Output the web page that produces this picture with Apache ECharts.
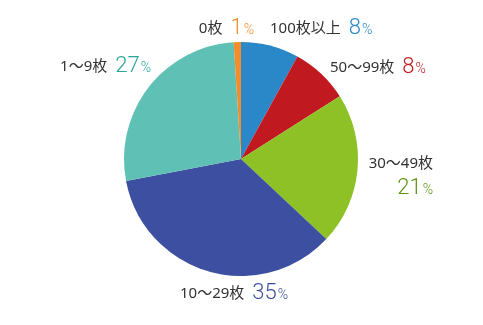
<!DOCTYPE html>
<html><head><meta charset="utf-8">
<script src="https://cdn.jsdelivr.net/npm/echarts@6/dist/echarts.min.js"></script>
<style>html,body{margin:0;padding:0;background:#fff}#c{width:483px;height:325px}</style>
</head><body><div id="c"></div>
<script>
var categories = ['100枚以上', '50〜99枚', '30〜49枚', '10〜29枚', '1〜9枚', '0枚'];
var values = [8, 8, 21, 35, 27, 1];
var sliceColors = ['#2a88c8', '#c11920', '#8dc126', '#3c4fa0', '#5fc0b5', '#f18d2b'];
var textColors = ['#2a88c8', '#c11920', '#5e9612', '#3c4fa0', '#2aa596', '#f18d2b'];
// label anchors: [x, y, align]
var labelPos = [[270, 28, 'left'], [330, 67, 'left'], [433, 178, 'right'], [180, 293, 'left'], [151, 66, 'right'], [254, 28, 'right']];

var chart = echarts.init(document.getElementById('c'));
var data = categories.map(function (c, i) {
  var rich = {
    n: { fontSize: 15, color: '#333', fontFamily: "'Noto Sans', 'Noto Sans CJK JP'", padding: [2, 8, 0, 0] },
    v: { fontSize: 22, color: textColors[i], fontFamily: 'Roboto', fontWeight: 300 },
    p: { fontSize: 14, color: textColors[i], fontFamily: 'Roboto', fontWeight: 300, padding: [4, 0, 0, 1] }
  };
  var fmt = i === 2 ? '{n|' + c + '}\n{v|' + values[i] + '}{p|%}' : '{n|' + c + '}{v|' + values[i] + '}{p|%}';
  if (i === 2) { rich.n.padding = [0, 0, 6, 0]; }
  return {
    name: c, value: values[i],
    itemStyle: { color: sliceColors[i] },
    label: { formatter: fmt, rich: rich, align: labelPos[i][2] }
  };
});
chart.setOption({
  animation: false,
  series: [{
    type: 'pie',
    center: [241, 159],
    radius: 117,
    startAngle: 90,
    clockwise: true,
    itemStyle: { borderWidth: 0 },
    label: { show: true, position: 'outside' },
    labelLine: { show: false },
    labelLayout: function (p) {
      var lp = labelPos[p.dataIndex];
      return { x: lp[0], y: lp[1], align: lp[2], verticalAlign: 'middle' };
    },
    data: data
  }]
});
</script></body></html>
